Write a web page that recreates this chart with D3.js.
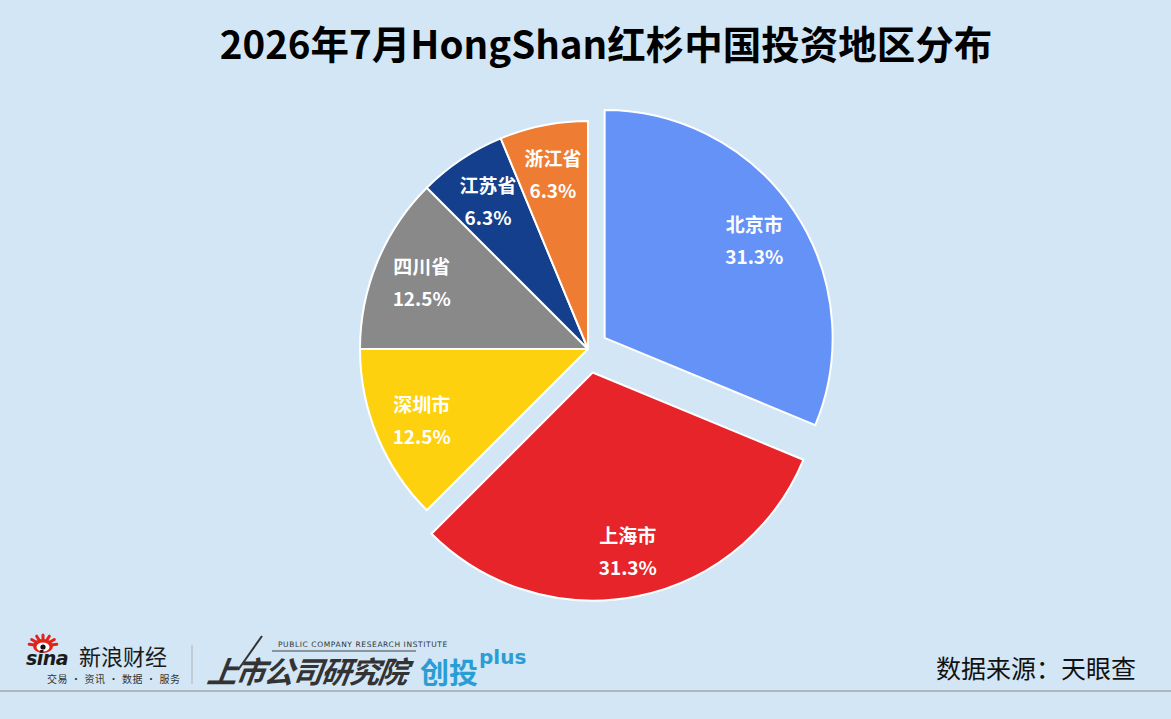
<!DOCTYPE html>
<html>
<head>
<meta charset="utf-8">
<script src="https://cdn.jsdelivr.net/npm/d3@7"></script>
<style>
  body { margin: 0; background: #d2e6f5; }
  svg { display: block; }
</style>
</head>
<body>
<div id="chart"></div>
<script>
// chart data
const regions = ["北京市", "上海市", "深圳市", "四川省", "江苏省", "浙江省"];
const counts = [5, 5, 2, 2, 1, 1];
const sliceColors = ["#6492f6", "#e6242a", "#fed10f", "#898989", "#143f8c", "#ee7d33"];
const explodeBy = [20, 24, 0, 0, 0, 0];

const title = "2026年7月HongShan红杉中国投资地区分布";
const source = "数据来源：天眼查";

const width = 1171;
const height = 719;
const radius = 228;
const cx = 588, cy = 349;
const font = "'Noto Sans CJK SC', 'Noto Sans', sans-serif";

const svg = d3.select("#chart")
  .append("svg")
  .attr("width", width)
  .attr("height", height)
  .attr("font-family", font);

svg.append("rect")
  .attr("width", width)
  .attr("height", height)
  .attr("fill", "#d2e6f5");

svg.append("text")
  .attr("x", 606)
  .attr("y", 59)
  .attr("text-anchor", "middle")
  .attr("font-size", 38.5)
  .attr("font-weight", "bold")
  .attr("fill", "#000")
  .text(title);

const total = d3.sum(counts);
const pie = d3.pie().sort(null).value(d => d.value);
const arcs = pie(regions.map((r, i) => ({ name: r, value: counts[i], i: i })));

const arc = d3.arc().innerRadius(0).outerRadius(radius);
const labelArc = d3.arc().innerRadius(180).outerRadius(180);

function offset(d) {
  const mid = (d.startAngle + d.endAngle) / 2;
  const e = explodeBy[d.data.i];
  return [Math.sin(mid) * e, -Math.cos(mid) * e];
}

const g = svg.append("g")
  .attr("transform", `translate(${cx},${cy})`);

const slice = g.selectAll("g.slice")
  .data(arcs)
  .enter()
  .append("g")
  .attr("class", "slice")
  .attr("transform", d => `translate(${offset(d)})`);

slice.append("path")
  .attr("d", arc)
  .attr("fill", d => sliceColors[d.data.i])
  .attr("stroke", "#fff")
  .attr("stroke-width", 2)
  .attr("stroke-linejoin", "round");

const lbl = slice.append("text")
  .attr("transform", d => `translate(${labelArc.centroid(d)})`)
  .attr("text-anchor", "middle")
  .attr("font-size", 19)
  .attr("font-weight", "bold")
  .attr("fill", "#fff");

lbl.append("tspan")
  .attr("x", 0)
  .attr("y", -6)
  .text(d => d.data.name);

lbl.append("tspan")
  .attr("x", 0)
  .attr("y", 26)
  .text(d => (d.data.value / total * 100).toFixed(1) + "%");

// footer
svg.append("line")
  .attr("x1", 0).attr("x2", width)
  .attr("y1", 691).attr("y2", 691)
  .attr("stroke", "#a6a6a6")
  .attr("stroke-width", 1.5);

svg.append("text")
  .attr("x", 1136)
  .attr("y", 678)
  .attr("text-anchor", "end")
  .attr("font-size", 25)
  .attr("fill", "#111")
  .text(source);

// sina logo (approximation)
const sina = svg.append("g");
const rays = d3.range(7);
sina.selectAll("line.ray")
  .data(rays)
  .enter()
  .append("line")
  .attr("x1", 43).attr("y1", 646)
  .attr("x2", d => 43 + Math.cos(Math.PI * (1.05 + d * 0.15)) * 14)
  .attr("y2", d => 646 + Math.sin(Math.PI * (1.05 + d * 0.15)) * 11)
  .attr("stroke", "#e2231a")
  .attr("stroke-width", 3)
  .attr("stroke-linecap", "round");
sina.append("ellipse").attr("cx", 43).attr("cy", 646).attr("rx", 10).attr("ry", 7).attr("fill", "#e2231a");
sina.append("ellipse").attr("cx", 43).attr("cy", 647).attr("rx", 6.5).attr("ry", 4.5).attr("fill", "#fff");
sina.append("circle").attr("cx", 43).attr("cy", 647).attr("r", 2.6).attr("fill", "#111");

sina.append("text")
  .attr("x", 26).attr("y", 665)
  .attr("font-size", 19)
  .attr("font-weight", "bold")
  .attr("font-style", "italic")
  .attr("font-family", "'DejaVu Sans', sans-serif")
  .attr("letter-spacing", -0.5)
  .attr("fill", "#1a1a1a")
  .text("sina");

sina.append("text")
  .attr("x", 79).attr("y", 665)
  .attr("font-size", 22)
  .attr("fill", "#1a1a1a")
  .text("新浪财经");

sina.append("text")
  .attr("x", 47).attr("y", 683)
  .attr("font-size", 10)
  .attr("letter-spacing", 0.6)
  .attr("fill", "#333")
  .text("交易 · 资讯 · 数据 · 服务");

svg.append("line")
  .attr("x1", 192).attr("x2", 192)
  .attr("y1", 645).attr("y2", 684)
  .attr("stroke", "#b0b0b0")
  .attr("stroke-width", 1);

// research institute logo (approximation)
const inst = svg.append("g");
inst.append("text")
  .attr("x", 278).attr("y", 647)
  .attr("font-size", 7.5)
  .attr("font-family", "'DejaVu Sans', sans-serif")
  .attr("letter-spacing", 0.6)
  .attr("fill", "#333")
  .text("PUBLIC COMPANY RESEARCH INSTITUTE");

inst.append("line")
  .attr("x1", 272).attr("x2", 416)
  .attr("y1", 651).attr("y2", 651)
  .attr("stroke", "#444").attr("stroke-width", 1);

inst.append("text")
  .attr("x", 207).attr("y", 683)
  .attr("font-size", 30)
  .attr("font-weight", "bold")
  .attr("font-style", "italic")
  .attr("letter-spacing", -1.5)
  .attr("fill", "#333")
  .attr("transform", "skewX(-8) translate(95,0)")
  .text("上市公司研究院");

inst.append("line")
  .attr("x1", 238).attr("y1", 670)
  .attr("x2", 262).attr("y2", 636)
  .attr("stroke", "#333").attr("stroke-width", 2);

inst.append("text")
  .attr("x", 420).attr("y", 684)
  .attr("font-size", 29)
  .attr("font-weight", "bold")
  .attr("fill", "#2a9ed4")
  .text("创投");

inst.append("text")
  .attr("x", 479).attr("y", 664)
  .attr("font-size", 20)
  .attr("font-weight", "bold")
  .attr("font-family", "'DejaVu Sans', sans-serif")
  .attr("fill", "#2a9ed4")
  .text("plus");
</script>
</body>
</html>
